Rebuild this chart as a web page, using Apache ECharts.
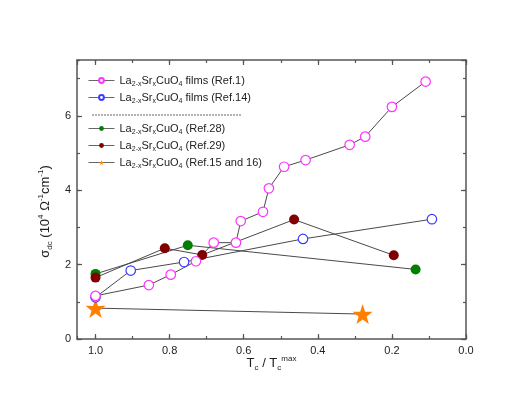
<!DOCTYPE html>
<html>
<head>
<meta charset="utf-8">
<script src="https://cdn.jsdelivr.net/npm/echarts@6/dist/echarts.min.js"></script>
<style>html,body{margin:0;padding:0;background:#fff}#c{width:518px;height:400px}</style>
</head>
<body>
<div id="c"></div>
<script>
// ---- data ----
var ref1X = [1.0, 0.856, 0.797, 0.729, 0.681, 0.621, 0.608, 0.548, 0.532, 0.491, 0.433, 0.314, 0.272, 0.2, 0.109];
var ref1Y = [1.16, 1.45, 1.73, 2.09, 2.59, 2.59, 3.17, 3.42, 4.05, 4.63, 4.81, 5.22, 5.44, 6.24, 6.92];
var ref14X = [1.0, 0.905, 0.761, 0.44, 0.092];
var ref14Y = [1.12, 1.84, 2.07, 2.69, 3.22];
var ref28X = [1.0, 0.751, 0.136];
var ref28Y = [1.75, 2.52, 1.87];
var ref29X = [1.0, 0.813, 0.712, 0.464, 0.195];
var ref29Y = [1.65, 2.44, 2.26, 3.21, 2.25];
var ref15X = [1.0, 0.279];
var ref15Y = [0.83, 0.67];

// axis ticks: labelled every 0.2 (x) / 2 (y), minor every 0.1 / 1
var xMajorStep = 0.2, xMinorStep = 0.1, xMax = 1.05;
var yMajorStep = 2, yMinorStep = 1, yMax = 7.5;

var seriesNames = ['Ref.1', 'Ref.14', 'Ref.28', 'Ref.29', 'Ref.15'];
var legendSuffix = {
  'Ref.1': ' films (Ref.1)',
  'Ref.14': ' films (Ref.14)',
  'Ref.28': ' (Ref.28)',
  'Ref.29': ' (Ref.29)',
  'Ref.15': ' (Ref.15 and 16)'
};

function pairs(xs, ys) { return xs.map(function (x, i) { return [x, ys[i]]; }); }

var FONT = '"Liberation Sans", Arial, sans-serif';
var AXC = '#555';
var LINEC = '#4a4a4a';
var STAR = 'path://M50,0 L61.8,35.1 L97.6,34.5 L69.1,56.7 L79.4,90.5 L50,70 L20.6,90.5 L30.9,56.7 L2.4,34.5 L38.2,35.1 Z';

function xAxisDef(pos, step, len, labels, line) {
  return {
    type: 'value', position: pos, inverse: true, min: 0, max: xMax, interval: step,
    axisLine: { show: line, onZero: false, lineStyle: { color: AXC, width: 1.5 } },
    axisTick: { show: true, inside: true, length: len, lineStyle: { color: AXC, width: 1.2 } },
    axisLabel: { show: labels, showMaxLabel: false, margin: 6, color: '#222', fontSize: 11, fontFamily: FONT,
      formatter: function (v) { return v.toFixed(1); } },
    splitLine: { show: false }
  };
}
function yAxisDef(pos, step, len, labels, line) {
  return {
    type: 'value', position: pos, min: 0, max: yMax, interval: step,
    axisLine: { show: line, onZero: false, lineStyle: { color: AXC, width: 1.5 } },
    axisTick: { show: true, inside: true, length: len, lineStyle: { color: AXC, width: 1.2 } },
    axisLabel: { show: labels, showMaxLabel: false, margin: 6, color: '#222', fontSize: 11, fontFamily: FONT },
    splitLine: { show: false }
  };
}

var xAxes = [
  xAxisDef('bottom', xMajorStep, 5, true, true),
  xAxisDef('bottom', xMinorStep, 3, false, false),
  xAxisDef('top', xMajorStep, 5, false, true),
  xAxisDef('top', xMinorStep, 3, false, false)
];
xAxes[0].name = '{n|T}{sb|c}{n| / T}{sb|c}{sp|max}';
xAxes[0].nameLocation = 'middle';
xAxes[0].nameGap = 16;
xAxes[0].nameMoveOverlap = false;
xAxes[0].nameTextStyle = {
  rich: {
    n: { fontSize: 13, fontFamily: FONT, color: '#222' },
    sb: { fontSize: 8, fontFamily: FONT, color: '#222', padding: [9, 0, 0, 0] },
    sp: { fontSize: 8, fontFamily: FONT, color: '#222', padding: [0, 0, 9, 0] }
  }
};

var yAxes = [
  yAxisDef('left', yMajorStep, 5, true, true),
  yAxisDef('left', yMinorStep, 3, false, false),
  yAxisDef('right', yMajorStep, 5, false, true),
  yAxisDef('right', yMinorStep, 3, false, false)
];
yAxes[0].name = '{n|σ}{sb|dc}{n| (10}{sp|4}{n| Ω}{sp|-1}{n|cm}{sp|-1}{n|)}';
yAxes[0].nameLocation = 'middle';
yAxes[0].nameRotate = 90;
yAxes[0].nameGap = 23;
yAxes[0].nameMoveOverlap = false;
yAxes[0].nameTextStyle = {
  padding: [0, 24, 0, 0],
  rich: {
    n: { fontSize: 13, fontFamily: FONT, color: '#222' },
    sb: { fontSize: 8, fontFamily: FONT, color: '#222', padding: [9, 0, 0, 0] },
    sp: { fontSize: 8, fontFamily: FONT, color: '#222', padding: [0, 0, 9, 0] }
  }
};

function mkSeries(name, xs, ys, symbol, size, item) {
  return {
    name: name, type: 'line', xAxisIndex: 0, yAxisIndex: 0,
    data: pairs(xs, ys), symbol: symbol, symbolSize: size,
    showAllSymbol: true,
    lineStyle: { color: LINEC, width: 1 },
    itemStyle: item,
    emphasis: { disabled: true },
    animation: false, z: 3
  };
}

var series = [
  mkSeries('Ref.15', ref15X, ref15Y, STAR, 20, { color: '#ff8000' }),
  mkSeries('Ref.28', ref28X, ref28Y, 'circle', 10, { color: '#007f00' }),
  mkSeries('Ref.29', ref29X, ref29Y, 'circle', 10, { color: '#800000' }),
  mkSeries('Ref.14', ref14X, ref14Y, 'circle', 9.5, { color: '#ffffff', borderColor: '#3b3bff', borderWidth: 1.2 }),
  mkSeries('Ref.1', ref1X, ref1Y, 'circle', 9.5, { color: '#ffffff', borderColor: '#ff33ff', borderWidth: 1.2 })
];

var legendRich = {
  n: { fontSize: 11, fontFamily: FONT, color: '#222' },
  s: { fontSize: 7, fontFamily: FONT, color: '#222', padding: [8, 0, 0, 0] }
};
function legendFmt(name) {
  return '{n|La}{s|2-x}{n|Sr}{s|x}{n|CuO}{s|4}{n|' + legendSuffix[name] + '}';
}
function legendDef(data, top) {
  return {
    data: data, orient: 'vertical', left: 88, top: top, itemGap: 4,
    itemWidth: 26, itemHeight: 6, padding: 0,
    selectedMode: false, formatter: legendFmt,
    lineStyle: { width: 1, color: '#666' },
    textStyle: { rich: legendRich }
  };
}

var chart = echarts.init(document.getElementById('c'), null, { renderer: 'canvas' });
chart.setOption({
  animation: false,
  backgroundColor: '#fff',
  grid: { left: 77, right: 52, top: 60, bottom: 61 },
  xAxis: xAxes,
  yAxis: yAxes,
  legend: [
    legendDef([seriesNames[0], seriesNames[1]], 75),
    legendDef([seriesNames[2], seriesNames[3], seriesNames[4]], 123)
  ],
  graphic: [{
    type: 'line', shape: { x1: 92, y1: 115, x2: 242, y2: 115 },
    style: { stroke: '#666', lineWidth: 1, lineDash: [2, 1] }
  }],
  series: series
});
</script>
</body>
</html>
